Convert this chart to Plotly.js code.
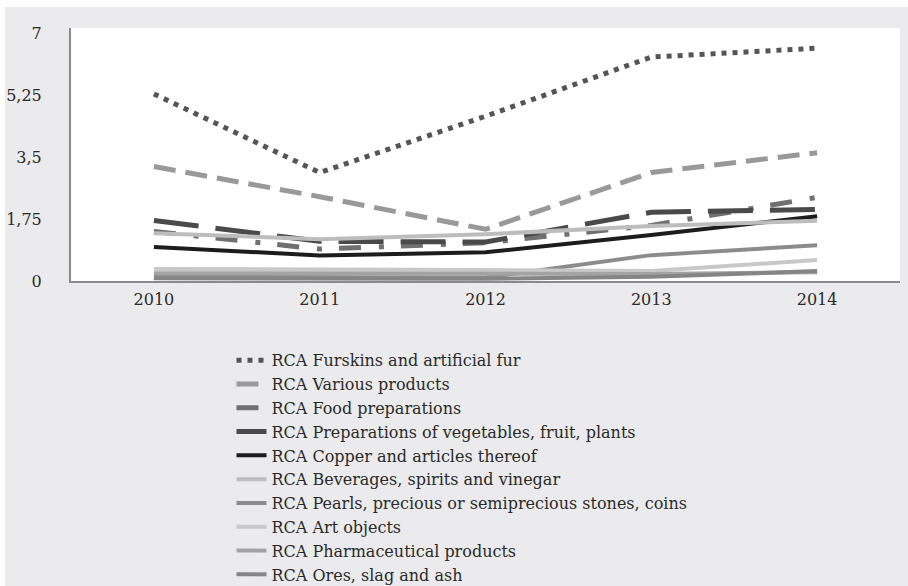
<!DOCTYPE html>
<html>
<head>
<meta charset="utf-8">
<script src="https://cdn.plot.ly/plotly-3.0.1.min.js"></script>
<style>
html,body{margin:0;padding:0;background:#ffffff;}
#chart{position:absolute;left:5px;top:7px;width:903px;height:579px;}
</style>
</head>
<body>
<div id="chart"></div>
<script>
const years = [2010, 2011, 2012, 2013, 2014];
const seriesNames = [
  "RCA Furskins and artificial fur",
  "RCA Various products",
  "RCA Food preparations",
  "RCA Preparations of vegetables, fruit, plants",
  "RCA Copper and articles thereof",
  "RCA Beverages, spirits and vinegar",
  "RCA Pearls, precious or semiprecious stones, coins",
  "RCA Art objects",
  "RCA Pharmaceutical products",
  "RCA Ores, slag and ash"
];
const furskins  = [5.28, 3.06, 4.65, 6.32, 6.57];
const various   = [3.23, 2.38, 1.46, 3.06, 3.62];
const foodPrep  = [1.40, 0.90, 1.08, 1.57, 2.36];
const prepVeg   = [1.71, 1.12, 1.10, 1.94, 2.02];
const copper    = [0.96, 0.72, 0.81, 1.30, 1.83];
const beverages = [1.35, 1.18, 1.32, 1.55, 1.70];
const pearls    = [0.12, 0.12, 0.10, 0.73, 1.01];
const artObj    = [0.34, 0.33, 0.31, 0.28, 0.59];
const pharma    = [0.22, 0.22, 0.20, 0.20, 0.25];
const ores      = [0.08, 0.08, 0.06, 0.12, 0.28];

const yTickVals = [0, 1.75, 3.5, 5.25, 7];
const yTickText = ["0", "1,75", "3,5", "5,25", "7"];

const values = [furskins, various, foodPrep, prepVeg, copper, beverages, pearls, artObj, pharma, ores];
const styles = [
  {color:"#555555", width:5, dash:"5px,6px"},
  {color:"#999999", width:5, dash:"22px,10px"},
  {color:"#707070", width:5, dash:"22px,18px,5px,17px"},
  {color:"#4a4a4a", width:5, dash:"45px,17px"},
  {color:"#1c1c1c", width:4, dash:"solid"},
  {color:"#bdbdbd", width:4, dash:"solid"},
  {color:"#8c8c8c", width:4, dash:"solid"},
  {color:"#c8c8c8", width:4, dash:"solid"},
  {color:"#a3a3a3", width:4, dash:"solid"},
  {color:"#858585", width:4, dash:"solid"}
];

const traces = values.map((v, i) => ({
  type: "scatter",
  mode: "lines",
  x: years,
  y: v,
  name: seriesNames[i],
  line: styles[i]
}));

const fam = "DejaVu Serif, Liberation Serif, serif";

const layout = {
  width: 903,
  height: 579,
  margin: {l: 66, r: 8, t: 21, b: 305, autoexpand: false},
  paper_bgcolor: "#ebebed",
  plot_bgcolor: "#ffffff",
  font: {family: fam, size: 16, color: "#2a2a2a"},
  showlegend: true,
  legend: {
    x: 0.1936, xanchor: "left",
    y: -0.246, yanchor: "top",
    bgcolor: "rgba(0,0,0,0)",
    font: {family: fam, size: 16, color: "#2a2a2a"},
    itemwidth: 30,
    tracegroupgap: 0
  },
  xaxis: {
    range: [2009.5, 2014.5],
    tickvals: years,
    ticktext: years.map(String),
    showgrid: false,
    zeroline: false,
    showline: true,
    linecolor: "#8a8a8a",
    linewidth: 2,
    ticks: "outside",
    ticklen: 3,
    tickcolor: "rgba(0,0,0,0)",
    tickfont: {family: fam, size: 16, color: "#2a2a2a"}
  },
  yaxis: {
    range: [0, 7.14],
    tickvals: yTickVals,
    ticktext: yTickText,
    showgrid: false,
    zeroline: false,
    showline: true,
    linecolor: "#8a8a8a",
    linewidth: 2,
    ticks: "outside",
    ticklen: 24,
    tickcolor: "rgba(0,0,0,0)",
    tickfont: {family: fam, size: 16, color: "#2a2a2a"}
  }
};

Plotly.newPlot("chart", traces, layout, {displayModeBar: false, staticPlot: true});
</script>
</body>
</html>
